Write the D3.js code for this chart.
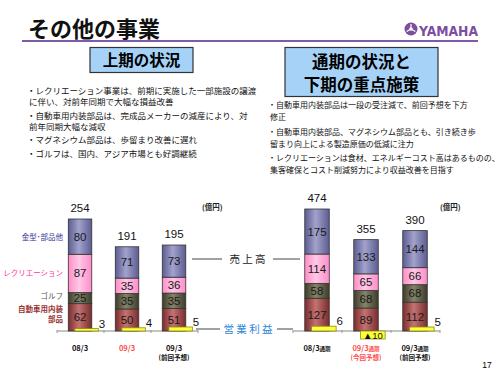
<!DOCTYPE html>
<html><head><meta charset="utf-8">
<script src="https://cdn.jsdelivr.net/npm/d3@7/dist/d3.min.js"></script>
<style>
body{margin:0;background:#fff;}
svg{display:block;font-family:"Noto Sans CJK JP","Noto Sans",sans-serif;}
</style></head>
<body>
<svg id="c" width="500" height="375"></svg>
<script>
// ---- data ----
const seriesNames = ["自動車用内装部品", "ゴルフ", "レクリエーション", "金型･部品他"];
const leftCategories = ["08/3", "09/3", "09/3|(前回予想)"];
const leftAuto = [62, 50, 51];
const leftGolf = [25, 35, 35];
const leftRec = [87, 35, 36];
const leftMold = [80, 71, 73];
const leftTotal = [254, 191, 195];
const leftProfit = [3, 4, 5];

const rightCategories = ["08/3通期", "09/3通期|(今回予想)", "09/3通期|(前回予想)"];
const rightAuto = [127, 89, 112];
const rightGolf = [58, 68, 68];
const rightRec = [114, 65, 66];
const rightMold = [175, 133, 144];
const rightTotal = [474, 355, 390];
const rightProfit = [6, -10, 5];

const leftBullets = [
  ["・レクリエーション事業は、前期に実施した一部施設の譲渡", "に伴い、対前年同期で大幅な損益改善"],
  ["・自動車用内装部品は、完成品メーカーの減産により、対", "前年同期大幅な減収"],
  ["・マグネシウム部品は、歩留まり改善に遅れ"],
  ["・ゴルフは、国内、アジア市場とも好調継続"]
];
const rightBullets = [
  ["・自動車用内装部品は一段の受注減で、前回予想を下方", "修正"],
  ["・自動車用内装部品、マグネシウム部品とも、引き続き歩", "留まり向上による製造原価の低減に注力"],
  ["・レクリエーションは食材、エネルギーコスト高はあるものの、", "集客確保とコスト削減努力により収益改善を目指す"]
];

// ---- drawing ----
const svg = d3.select("#c");
const defs = svg.append("defs");
const grads = [
  ["gAuto", "#7a2c2c", "#c47272"],
  ["gGolf", "#3c3c2a", "#84846a"],
  ["gRec", "#ff8cc8", "#ffc8e6"],
  ["gMold", "#5c5c92", "#a2a2cc"]
];
grads.forEach(([id, e, m]) => {
  const g = defs.append("linearGradient").attr("id", id).attr("x1", "0").attr("x2", "1").attr("y1", "0").attr("y2", "0");
  g.append("stop").attr("offset", "0%").attr("stop-color", e);
  g.append("stop").attr("offset", "45%").attr("stop-color", m);
  g.append("stop").attr("offset", "100%").attr("stop-color", e);
});
const fills = ["url(#gAuto)", "url(#gGolf)", "url(#gRec)", "url(#gMold)"];

// title
svg.append("text").attr("x", 28).attr("y", 37).attr("font-size", 22).attr("font-weight", "bold").attr("fill", "#111").text("その他の事業");
svg.append("line").attr("x1", 22).attr("x2", 478).attr("y1", 41).attr("y2", 41).attr("stroke", "#7f5aa6").attr("stroke-width", 2);

// logo
const logo = svg.append("g").attr("transform", "translate(411,29)");
logo.append("circle").attr("r", 6.5).attr("fill", "#7d4e9f");
for (let i = 0; i < 3; i++) {
  logo.append("line").attr("x1", 0).attr("y1", 0).attr("x2", 0).attr("y2", -5)
    .attr("stroke", "#fff").attr("stroke-width", 1.2).attr("transform", `rotate(${i * 120})`);
}
logo.append("circle").attr("r", 1.8).attr("fill", "#fff");
svg.append("text").attr("x", 419).attr("y", 35.5).attr("font-size", 14).attr("font-weight", "bold")
  .attr("font-family", "Liberation Sans Narrow, DejaVu Sans Condensed, sans-serif")
  .attr("fill", "#7d4e9f").attr("textLength", 59).attr("lengthAdjust", "spacingAndGlyphs").text("YAMAHA");

// headline boxes
svg.append("rect").attr("x", 90).attr("y", 47.5).attr("width", 103).attr("height", 25).attr("fill", "#a6d2f7").attr("stroke", "#333").attr("stroke-width", 1.2);
svg.append("text").attr("x", 141.5).attr("y", 66).attr("text-anchor", "middle").attr("font-size", 15.5).attr("font-weight", "bold").text("上期の状況");
svg.append("rect").attr("x", 285).attr("y", 47.5).attr("width", 153).attr("height", 49).attr("fill", "#a6d2f7").attr("stroke", "#333").attr("stroke-width", 1.2);
svg.append("text").attr("x", 361.5).attr("y", 68).attr("text-anchor", "middle").attr("font-size", 16.5).attr("font-weight", "bold").text("通期の状況と");
svg.append("text").attr("x", 361.5).attr("y", 90.5).attr("text-anchor", "middle").attr("font-size", 16.5).attr("font-weight", "bold").text("下期の重点施策");

function bullets(list, x, y0, lineH, gap, fs) {
  let y = y0;
  list.forEach(b => {
    b.forEach((ln, i) => {
      svg.append("text").attr("x", i === 0 ? x : x + 2).attr("y", y).attr("font-size", fs).attr("fill", "#111").text(ln);
      y += lineH;
    });
    y += gap;
  });
}
bullets(leftBullets, 27, 94, 11, 2.5, 8.5);
bullets(rightBullets, 268, 108, 12, 2.5, 8.0);

// panels
function panel(cfg) {
  const x = d3.scaleBand().domain(cfg.cats).range(cfg.xr);
  const y = d3.scaleLinear().domain([0, cfg.maxV]).range([cfg.base, cfg.topY]);
  const p = d3.scaleLinear().domain([0, 10]).range([0, 8]);
  const step = x.step();
  const bx = c => x(c) + step * 0.24;
  const bw = step * 0.5;
  const layers = [cfg.auto, cfg.golf, cfg.rec, cfg.mold];
  const g = svg.append("g");
  const axis = d3.axisBottom(x).tickSize(0).tickFormat("");
  const ax = g.append("g").attr("transform", `translate(0,${cfg.base})`).call(axis);
  ax.select(".domain").attr("stroke", "#888").attr("d", `M${cfg.xr[0]},0H${cfg.xr[1]}`);
  const edges = cfg.cats.map(c => x(c)).concat([cfg.xr[1]]);
  g.selectAll(".edge").data(edges).join("line").attr("x1", d => d).attr("x2", d => d)
    .attr("y1", cfg.base - 1).attr("y2", cfg.base + 2).attr("stroke", "#999");
  cfg.cats.forEach((c, i) => {
    let cum = 0;
    layers.forEach((arr, k) => {
      const v = arr[i];
      g.append("rect").attr("x", bx(c)).attr("width", bw)
        .attr("y", y(cum + v)).attr("height", y(cum) - y(cum + v))
        .attr("fill", fills[k]).attr("stroke", "#333").attr("stroke-width", 0.8);
      g.append("text").attr("x", bx(c) + bw / 2).attr("y", (y(cum) + y(cum + v)) / 2 + 4)
        .attr("text-anchor", "middle").attr("font-size", 11.5).attr("fill", "#1a1a1a")
        .attr("font-family", "Liberation Sans, Arial, sans-serif").text(v);
      cum += v;
    });
    g.append("text").attr("x", bx(c) + bw / 2).attr("y", y(cfg.total[i]) - 7)
      .attr("text-anchor", "middle").attr("font-size", 11.5).attr("fill", "#111")
      .attr("font-family", "Liberation Sans, Arial, sans-serif").text(cfg.total[i]);
    const pv = cfg.profit[i];
    const px = x(c) + step * 0.38, pw = step * 0.5;
    if (pv >= 0) {
      g.append("rect").attr("x", px).attr("width", pw).attr("y", cfg.base - p(pv)).attr("height", p(pv))
        .attr("fill", "#ffff33").attr("stroke", "#8a8a20").attr("stroke-width", 0.8);
      g.append("text").attr("x", px + pw + 0.5).attr("y", cfg.base - p(pv) - 1).attr("font-size", 11.5)
        .attr("font-family", "Liberation Sans, Arial, sans-serif").attr("fill", "#111").text(pv);
    } else {
      g.append("rect").attr("x", px).attr("width", pw).attr("y", cfg.base).attr("height", p(-pv))
        .attr("fill", "#ffff33").attr("stroke", "#8a8a20").attr("stroke-width", 0.8);
      g.append("text").attr("x", px + pw / 2).attr("y", cfg.base + p(-pv) - 0.5).attr("text-anchor", "middle")
        .attr("font-size", 9.5).attr("font-family", "Liberation Sans, Arial, sans-serif").attr("fill", "#111").text("▲" + (-pv));
    }
    const parts = c.split("|");
    const col = i === 1 ? "#ff4d4d" : "#111";
    const cx = bx(c) + bw / 2;
    const t1 = g.append("text").attr("x", cx).attr("y", cfg.base + 20).attr("text-anchor", "middle")
      .attr("font-size", 7.5).attr("font-weight", "bold").attr("fill", col);
    const m = parts[0].match(/^(.*?)(通期)?$/);
    t1.append("tspan").text(m[1]);
    if (m[2]) t1.append("tspan").attr("font-size", 5.5).text(m[2]);
    if (parts[1]) {
      g.append("text").attr("x", cx).attr("y", cfg.base + 29).attr("text-anchor", "middle")
        .attr("font-size", 6.5).attr("font-weight", "bold").attr("fill", col).text(parts[1]);
    }
  });
  svg.append("text").attr("x", cfg.unitX).attr("y", 210).attr("font-size", 7.5).attr("font-weight", "bold").attr("fill", "#222").text("(億円)");
  return {x, y, bx, bw};
}

const L = panel({cats: leftCategories, xr: [57, 198], maxV: leftTotal[0], base: 331, topY: 219,
  auto: leftAuto, golf: leftGolf, rec: leftRec, mold: leftMold, total: leftTotal, profit: leftProfit, unitX: 202});
panel({cats: rightCategories, xr: [293, 440], maxV: rightTotal[0], base: 331, topY: 209,
  auto: rightAuto, golf: rightGolf, rec: rightRec, mold: rightMold, total: rightTotal, profit: rightProfit, unitX: 440});

// series labels aligned with first left bar segments
const lc = ["#993333", "#555555", "#ff3399", "#333399"];
const firstVals = [leftAuto[0], leftGolf[0], leftRec[0], leftMold[0]];
let cum = 0;
firstVals.forEach((v, k) => {
  const mid = (L.y(cum) + L.y(cum + v)) / 2;
  if (k === 0) {
    svg.append("text").attr("x", 63).attr("y", mid - 5.5).attr("text-anchor", "end").attr("font-size", 7.5).attr("font-weight", "bold").attr("fill", lc[k]).text("自動車用内装");
    svg.append("text").attr("x", 63).attr("y", mid + 4.5).attr("text-anchor", "end").attr("font-size", 7.5).attr("font-weight", "bold").attr("fill", lc[k]).text("部品");
  } else if (k === 1) {
    svg.append("text").attr("x", 63).attr("y", mid + 1).attr("text-anchor", "end").attr("font-size", 7.5).attr("fill", lc[k]).text(seriesNames[k]);
  } else {
    svg.append("text").attr("x", 63).attr("y", mid + 3).attr("text-anchor", "end").attr("font-size", 7.5).attr("fill", lc[k]).text(seriesNames[k]);
  }
  cum += v;
});

// center labels
svg.append("text").attr("x", 247.5).attr("y", 263).attr("text-anchor", "middle").attr("font-size", 10.5).attr("fill", "#222").text("売 上 高");
svg.append("line").attr("x1", 192).attr("x2", 222).attr("y1", 259).attr("y2", 259).attr("stroke", "#444");
svg.append("line").attr("x1", 273).attr("x2", 300).attr("y1", 259).attr("y2", 259).attr("stroke", "#444");
svg.append("text").attr("x", 248).attr("y", 332.5).attr("text-anchor", "middle").attr("font-size", 10.5).attr("fill", "#2f86d6").text("営 業 利 益");
svg.append("line").attr("x1", 196).attr("x2", 220).attr("y1", 329).attr("y2", 329).attr("stroke", "#444");
svg.append("line").attr("x1", 277).attr("x2", 293).attr("y1", 329).attr("y2", 329).attr("stroke", "#444");

svg.append("text").attr("x", 487).attr("y", 368).attr("text-anchor", "middle").attr("font-size", 8.5).attr("font-family", "Liberation Sans, Arial, sans-serif").text("17");
</script>
</body></html>
